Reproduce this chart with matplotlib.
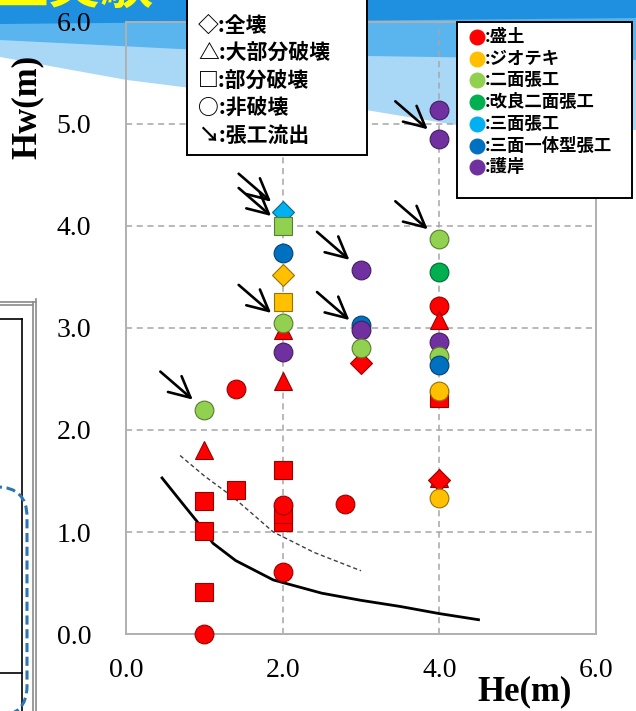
import matplotlib
matplotlib.use('Agg')
import matplotlib.pyplot as plt
from matplotlib.patches import Rectangle, Polygon, FancyBboxPatch
from matplotlib.lines import Line2D
from matplotlib.transforms import IdentityTransform
from matplotlib.colors import to_rgb

W, H = 636, 711

# legend categories
kinds = ['盛土', 'ジオテキ', '二面張工', '改良二面張工', '三面張工', '三面一体型張工', '護岸']
kind_colors = ['#ff0000', '#ffc000', '#92d050', '#00b050', '#00b0f0', '#0070c0', '#7030a0']
damages = ['全壊', '大部分破壊', '部分破壊', '非破壊']
damage_symbols = ['◇', '△', '□', '○']
damage_markers = ['D', '^', 's', 'o']
outflow_label = '張工流出'

# specimens (drawing order = list order)
he = [1.0, 1.0, 1.0, 1.0, 1.0, 1.0, 1.4, 1.4,
      2.0, 2.0, 2.0, 2.0, 2.0, 2.0, 2.0, 2.0, 2.0, 2.0, 2.0, 2.0, 2.0, 2.0,
      2.8, 3.0, 3.0, 3.0, 3.0, 3.0,
      4.0, 4.0, 4.0, 4.0, 4.0, 4.0, 4.0, 4.0, 4.0, 4.0, 4.0, 4.0, 4.0, 4.0]
hw = [2.20, 1.80, 1.30, 1.01, 0.41, 0.00, 2.40, 1.41,
      4.14, 4.00, 3.74, 3.52, 3.25, 2.98, 3.05, 2.76, 2.48, 1.61, 1.10, 1.18, 1.26, 0.61,
      1.27, 3.57, 3.03, 2.98, 2.66, 2.80,
      5.14, 4.85, 3.87, 3.55, 3.22, 3.08, 2.86, 2.73, 2.64, 2.31, 2.38, 1.53, 1.51, 1.33]
kind = ['二面張工', '盛土', '盛土', '盛土', '盛土', '盛土', '盛土', '盛土',
        '三面張工', '二面張工', '三面一体型張工', 'ジオテキ', 'ジオテキ', '盛土', '二面張工', '護岸',
        '盛土', '盛土', '盛土', '盛土', '盛土', '盛土',
        '盛土', '護岸', '三面一体型張工', '護岸', '盛土', '二面張工',
        '護岸', '護岸', '二面張工', '改良二面張工', '盛土', '盛土', '護岸', '二面張工',
        '三面一体型張工', '盛土', 'ジオテキ', '盛土', '盛土', 'ジオテキ']
damage = ['非破壊', '大部分破壊', '部分破壊', '部分破壊', '部分破壊', '非破壊', '非破壊', '部分破壊',
          '全壊', '部分破壊', '非破壊', '全壊', '部分破壊', '大部分破壊', '非破壊', '非破壊',
          '大部分破壊', '部分破壊', '部分破壊', '部分破壊', '非破壊', '非破壊',
          '非破壊', '非破壊', '非破壊', '非破壊', '全壊', '非破壊',
          '非破壊', '非破壊', '非破壊', '非破壊', '非破壊', '大部分破壊', '非破壊', '非破壊',
          '非破壊', '部分破壊', '非破壊', '大部分破壊', '全壊', '非破壊']
outflow = [1, 0, 0, 0, 0, 0, 0, 0,
           1, 1, 0, 0, 0, 0, 1, 0, 0, 0, 0, 0, 0, 0,
           0, 1, 0, 1, 0, 0,
           0, 1, 1, 0, 0, 0, 0, 0, 0, 0, 0, 0, 0, 0]

# boundary curves
limit_he = [0.46, 0.70, 0.91, 1.11, 1.40, 1.88, 2.50, 3.00, 3.50, 4.00, 4.50]
limit_hw = [1.53, 1.30, 1.10, 0.89, 0.72, 0.53, 0.40, 0.33, 0.27, 0.20, 0.14]
dash_he = [0.69, 1.00, 1.37, 1.88, 2.40, 3.00]
dash_hw = [1.75, 1.55, 1.34, 1.00, 0.80, 0.62]

serif = 'Liberation Serif'
jp = ['Noto Sans CJK JP', 'DejaVu Sans']
plt.rcParams['font.family'] = [serif, 'DejaVu Sans']


def fx(x):
    return x / W


def fy(y):
    return 1 - y / H


def darker(c, f=0.6):
    r, g, b = to_rgb(c)
    return (r * f, g * f, b * f)


fig = plt.figure(figsize=(W / 100, H / 100), dpi=100)
pix = IdentityTransform()

# slide header banner (behind the chart)
fig.add_artist(Polygon([(0, H), (W, H), (W, H - 130), (456, H - 125), (366, H - 110),
                        (127, H - 80), (0, H - 57)], closed=True, transform=pix,
                       facecolor='#a9d8f6', edgecolor='none', zorder=-3))
fig.add_artist(Polygon([(0, H), (W, H), (W, H - 60), (300, H - 55), (0, H - 40)], closed=True,
                       transform=pix, facecolor='#5ab4ee', edgecolor='none', zorder=-2))
fig.add_artist(Polygon([(0, H), (W, H), (W, H - 18), (0, H - 24)], closed=True,
                       transform=pix, facecolor='#1f8fe0', edgecolor='none', zorder=-1))
fig.text(fx(-4), fy(4), '土実験', color='#ffff00', fontsize=38, fontweight='bold',
         family=jp, ha='left', va='baseline', zorder=0)

# partial neighbouring panel on the left
for x in (33, 36):
    fig.add_artist(Line2D([x, x], [H - 302 + (x - 33), 0], transform=pix, color='#8a8a8a', lw=1.2))
for y in (302, 305):
    fig.add_artist(Line2D([0, 33 + (305 - y)], [H - y, H - y], transform=pix, color='#8a8a8a', lw=1.2))
fig.add_artist(Line2D([22, 22], [H - 319, 0], transform=pix, color='black', lw=1.2))
fig.add_artist(Line2D([0, 22], [H - 319, H - 319], transform=pix, color='black', lw=1.2))
fig.add_artist(Line2D([0, 22], [H - 673, H - 673], transform=pix, color='black', lw=1.2))
fig.add_artist(FancyBboxPatch((-90, H - 716), 117, 229, boxstyle='round,pad=0,rounding_size=30',
                              transform=pix, facecolor='none', edgecolor='#2e75b6',
                              lw=2.2, linestyle=(0, (3, 1.5)), zorder=2))

# main axes
ax = fig.add_axes([fx(126), fy(634), fx(596 - 126), (634 - 22) / H])
ax.set_facecolor('none')
ax.set_xlim(0, 6)
ax.set_ylim(0, 6)
ax.set_xticks([0, 2, 4, 6])
ax.set_yticks([0, 1, 2, 3, 4, 5, 6])
ax.set_xticklabels(['0.0', '2.0', '4.0', '6.0'])
ax.set_yticklabels(['0.0', '1.0', '2.0', '3.0', '4.0', '5.0', '6.0'])
ax.tick_params(axis='x', length=0, labelsize=20, pad=17)
ax.tick_params(axis='y', length=0, labelsize=20, pad=25)
ax.grid(True, color='#a6a6a6', linestyle=(0, (4, 3)), lw=1.1)
for s in ax.spines.values():
    s.set_color('#b0b0b0')
    s.set_linewidth(1.4)

ax.plot(limit_he, limit_hw, color='black', lw=2.0, zorder=3)
ax.plot(dash_he, dash_hw, color='#404040', lw=1.0, linestyle=(0, (3, 2)), zorder=3)

color_of = dict(zip(kinds, kind_colors))
marker_of = dict(zip(damages, damage_markers))
for i in range(len(he)):
    c = color_of[kind[i]]
    m = marker_of[damage[i]]
    ax.plot(he[i], hw[i], marker=m, markersize=11.5 if m == 'D' else 13.5, color=c,
            markeredgecolor=darker(c), markeredgewidth=0.8, linestyle='none',
            clip_on=False, zorder=5 + i * 0.01)
    if outflow[i]:
        ax.annotate('', xy=(he[i], hw[i]), xytext=(-44, 38), textcoords='offset pixels',
                    arrowprops=dict(arrowstyle='->,head_length=0.5,head_width=0.25',
                                    color='black', lw=1.9,
                                    shrinkA=0, shrinkB=11, mutation_scale=30),
                    zorder=6)

fig.text(fx(27), fy(107), 'Hw(m)', rotation=90, fontsize=25, fontweight='bold',
         family=serif, ha='center', va='center')
fig.text(fx(525), fy(692), 'He(m)', fontsize=25, fontweight='bold',
         family=serif, ha='center', va='center')

# damage legend box
fig.add_artist(Rectangle((fx(187), fy(155)), fx(180), fy(-5) - fy(155), transform=fig.transFigure,
                         facecolor='white', edgecolor='black', lw=1.4, zorder=10))
rows = [s + ':' + d for s, d in zip(damage_symbols, damages)] + ['↘:' + outflow_label]
for k, txt in enumerate(rows):
    fig.text(fx(198), fy(25 + 27.5 * k), txt, fontsize=15, fontweight='bold', family=jp,
             ha='left', va='center', zorder=11)

# type legend box
fig.add_artist(Rectangle((fx(457), fy(198)), fx(175), fy(22) - fy(198), transform=fig.transFigure,
                         facecolor='white', edgecolor='black', lw=1.4, zorder=10))
for k, (name, c) in enumerate(zip(kinds, kind_colors)):
    yy = fy(37 + 21.7 * k)
    fig.add_artist(Line2D([fx(477)], [yy], transform=fig.transFigure, marker='o', markersize=10.5,
                          color=c, markeredgecolor=c, linestyle='none', zorder=11))
    fig.text(fx(485), yy, ':' + name, fontsize=12.5, fontweight='bold', family=jp,
             ha='left', va='center', zorder=11)

fig.savefig('out.png', dpi=100)
